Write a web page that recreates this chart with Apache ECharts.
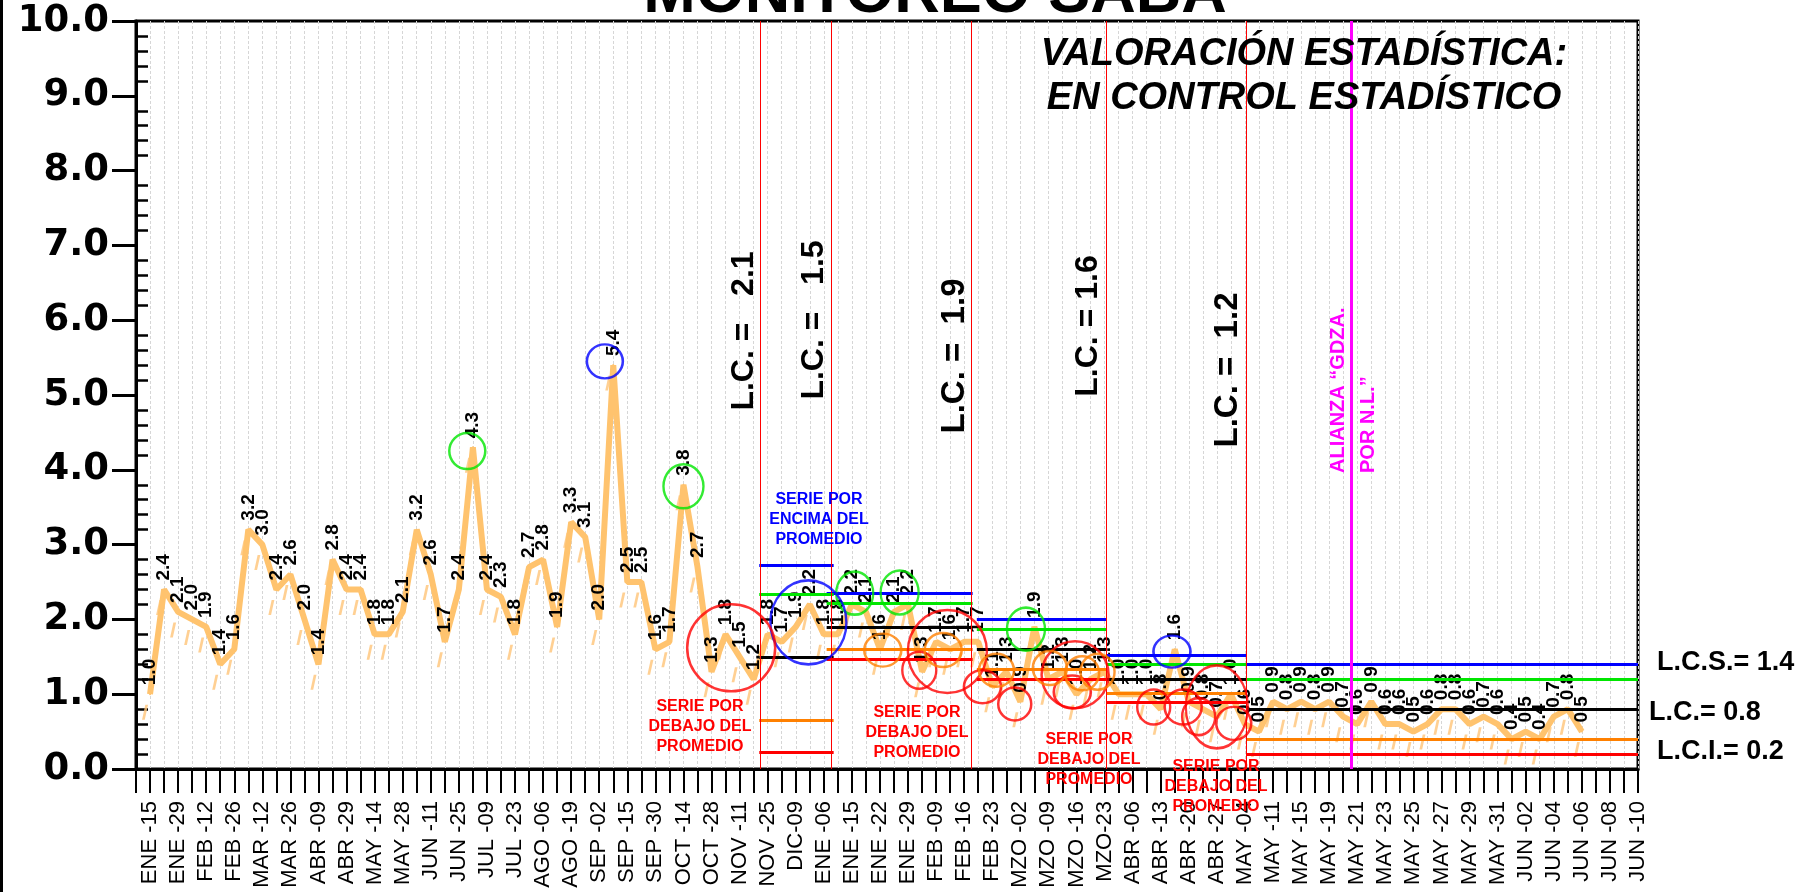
<!DOCTYPE html>
<html><head><meta charset="utf-8">
<script src="https://cdn.jsdelivr.net/npm/echarts@6/dist/echarts.min.js"></script>
<style>html,body{margin:0;padding:0;background:#fff}#c{width:1808px;height:892px}</style>
</head><body><div id="c"></div>
<script>
// ---------- DATA ----------
const tickLabels = ['ENE -15','ENE -29','FEB -12','FEB -26','MAR -12','MAR -26','ABR -09','ABR -29','MAY -14','MAY -28',
  'JUN -11','JUN -25','JUL -09','JUL -23','AGO -06','AGO -19','SEP -02','SEP -15','SEP -30','OCT -14',
  'OCT -28','NOV -11','NOV -25','DIC-09','ENE -06','ENE -15','ENE -22','ENE -29','FEB -09','FEB -16',
  'FEB -23','MZO -02','MZO -09','MZO -16','MZO-23','ABR -06','ABR -13','ABR -20','ABR -27','MAY -04',
  'MAY -11','MAY -15','MAY -19','MAY -21','MAY -23','MAY -25','MAY -27','MAY -29','MAY -31','JUN -02',
  'JUN -04','JUN -06','JUN -08','JUN -10'];
const slotCount = 108;      // tick positions 0..107, labels on odd positions
const firstIndex = 1;       // first plotted value sits on position 1
const values = [
  1.0,2.4,2.1,2.0,1.9,1.4,1.6,3.2,3.0,2.4,2.6,2.0,1.4,2.8,2.4,2.4,1.8,1.8,2.1,3.2,2.6,1.7,2.4,4.3,2.4,
  2.3,1.8,2.7,2.8,1.9,3.3,3.1,2.0,5.4,2.5,2.5,1.6,1.7,3.8,2.7,1.3,1.8,1.5,1.2,
  1.8,1.7,1.9,2.2,1.8,
  1.8,2.2,2.1,1.6,2.1,2.2,1.3,1.7,1.6,1.7,
  1.7,1.1,1.3,0.9,1.9,1.2,1.3,1.0,1.2,1.3,
  1.0,1.0,1.0,0.8,1.6,0.9,0.8,0.7,1.0,0.6,
  0.5,0.9,0.8,0.9,0.8,0.9,0.7,0.6,0.9,0.6,0.6,0.5,0.6,0.8,0.8,0.6,0.7,0.6,0.4,0.5,0.4,0.7,0.8,0.5];

// control limits per period (start / end position on the x scale)
const secStart = [-1.15, 44.4, 49.2, 59.9, 69.1, 79.1];
const secEnd   = [44.45, 49.7, 59.6, 69.1, 79.1, 107];
const lcsLine  = [4.35, 2.72, 2.35, 2.00, 1.52, 1.40];   // blue
const upperW   = [3.60, 2.34, 2.21, 1.87, 1.40, 1.20];   // green
const lcLine   = [2.08, 1.50, 1.90, 1.60, 1.20, 0.80];   // black
const lowerW   = [0.58, 0.655, 1.60, 1.33, 1.01, 0.40];  // orange
const lciLine  = [null, 0.225, 1.47, 1.20, 0.89, 0.20];  // red
const periodBreaks = [44.45, 49.55, 59.5, 69.1, 79.1];
const allianceBreak = 86.6;

// annotation ellipses: [x, y, width, height]
const greenRings  = [[23.6,4.25,36,36],[39.0,3.78,40,44],[51.2,2.35,37,43],[54.4,2.36,38,44],[63.4,1.87,38,43]];
const blueRings   = [[33.4,5.45,36,34],[47.9,1.96,76,84],[73.8,1.57,37,32]];
const redRings    = [[42.4,1.62,88,87],[57.8,1.57,79,83],[55.8,1.32,34,37],[60.3,1.10,37,33],[62.6,0.87,33,33],
                     [66.9,1.26,67,67],[66.7,1.03,37,33],[72.5,0.83,33,35],[74.6,0.83,37,35],[77.0,0.83,62,83],
                     [75.7,0.70,33,37],[78.2,0.61,35,33]];
const orangeRings = [[53.2,1.59,37,33],[57.5,1.59,37,34],[61.3,1.32,35,33],[65.1,1.35,34,34],[67.4,1.28,34,34],[68.5,1.30,34,36]];

// ---------- CHART ----------
const FONT = "'Liberation Sans', Arial, Helvetica, sans-serif";
const chart = echarts.init(document.getElementById('c'));
const lineData = values.map((v, i) => [firstIndex + i, v]);

const segs = [];
const addSegs = (arr, color) => arr.forEach((v, k) => {
  if (v == null) return;
  segs.push([{coord: [secStart[k], v], lineStyle: {color, width: 3, type: 'solid'}}, {coord: [secEnd[k], v]}]);
});
addSegs(lcsLine, '#0000FF');
addSegs(upperW, '#00E600');
addSegs(lcLine, '#000000');
addSegs(lowerW, '#FF8000');
addSegs(lciLine, '#FF0000');
const vlines = periodBreaks.map(x => ({xAxis: x, lineStyle: {color: '#FF0000', width: 1, type: 'solid'}}));
vlines.push({xAxis: allianceBreak, lineStyle: {color: '#FF00FF', width: 3, type: 'solid'}});

const minorVals = [];
for (let k = 0; k <= 50; k++) { if (k % 5 !== 0) minorVals.push(k / 5); }

const ring = (data, color) => ({
  type: 'scatter', data, symbol: 'circle', silent: true, z: 6,
  symbolSize: v => [v[2], v[3]],
  itemStyle: {color: 'rgba(0,0,0,0)', borderColor: color, borderWidth: 2.5}
});

const txt = (x, y, text, o) => Object.assign({type: 'text', x, y, z: 100,
  style: Object.assign({text, fill: '#000', font: 'bold 16px ' + FONT, align: 'center', verticalAlign: 'middle'}, o || {})});
const rot = (x, y, text, o) => Object.assign(txt(x, y, text, o), {rotation: Math.PI / 2});

chart.setOption({
  animation: false,
  grid: {left: 136, right: 170, top: 21, bottom: 123, show: true, borderColor: '#000', borderWidth: 3},
  xAxis: {
    type: 'value', min: 0, max: slotCount - 1, interval: 1,
    axisLine: {lineStyle: {color: '#000', width: 3}},
    axisTick: {length: 24, lineStyle: {color: '#000', width: 2}},
    splitLine: {show: true, lineStyle: {color: '#D6D6D6', width: 1, type: [3, 2]}},
    axisLabel: {rotate: 90, margin: 32, fontSize: 22, color: '#000', fontFamily: FONT,
      formatter: v => { const i = Math.round(v); return i % 2 === 1 ? (tickLabels[(i - 1) / 2] || '') : ''; }}
  },
  yAxis: [{
    type: 'value', min: 0, max: 10, interval: 1,
    axisLine: {show: true, lineStyle: {color: '#000', width: 3}},
    axisTick: {show: true, length: 24, lineStyle: {color: '#000', width: 3}},
    splitLine: {show: false},
    axisLabel: {margin: 27, fontSize: 37, fontWeight: 'bold', color: '#000', fontFamily: "'DejaVu Sans', sans-serif",
      formatter: v => v.toFixed(1)}
  }, {
    type: 'value', min: 0, max: 10, position: 'left',
    axisLine: {show: false}, splitLine: {show: false}, axisLabel: {show: false},
    axisTick: {show: true, inside: true, length: 12, customValues: minorVals, lineStyle: {color: '#000', width: 2.5}}
  }],
  series: [
    {type: 'line', data: [], clip: false, silent: true, z: 2,
      markLine: {silent: true, symbol: ['none', 'none'], label: {show: false}, data: segs.concat(vlines)}},
    {type: 'scatter', data: lineData, silent: true, z: 3,
      symbol: 'path://M0,12L3,0L5.5,0L2.5,12Z', symbolSize: [6, 15], symbolOffset: [-5, 18],
      itemStyle: {color: '#FFC478'}},
    {type: 'line', data: lineData, z: 4, symbol: 'circle', symbolSize: 2, showSymbol: true,
      itemStyle: {color: '#FFC36E'}, lineStyle: {color: '#FFC36E', width: 6},
      label: {show: true, position: 'top', distance: 8, rotate: 90, align: 'left', verticalAlign: 'middle',
        fontSize: 19, fontWeight: 'bold', color: '#000', fontFamily: FONT,
        formatter: p => p.value[1].toFixed(1)}},
    ring(greenRings, '#00E600'),
    ring(blueRings, '#0000FF'),
    ring(redRings, '#FF0000'),
    ring(orangeRings, '#FF8000')
  ],
  graphic: [
    {type: 'rect', shape: {x: 0, y: 0, width: 3, height: 892}, style: {fill: '#000'}},
    txt(935, -5, 'MONITOREO SABA', {font: 'bold 63px ' + FONT}),
    txt(1304, 77, 'VALORACIÓN ESTADÍSTICA:\nEN CONTROL ESTADÍSTICO', {font: 'italic bold 38px ' + FONT, lineHeight: 44}),
    rot(744, 331, 'L.C. =   2.1', {font: 'bold 32px ' + FONT}),
    rot(814, 320, 'L.C. =   1.5', {font: 'bold 32px ' + FONT}),
    rot(955, 356, 'L.C. =  1.9', {font: 'bold 33px ' + FONT}),
    rot(1088, 326, 'L.C. = 1.6', {font: 'bold 32px ' + FONT}),
    rot(1228, 370, 'L.C. =  1.2', {font: 'bold 33px ' + FONT}),
    rot(1338, 473, 'ALIANZA “GDZA.', {font: 'bold 20px ' + FONT, fill: '#FF00FF', align: 'left'}),
    rot(1368, 473, 'POR N.L.”', {font: 'bold 20px ' + FONT, fill: '#FF00FF', align: 'left'}),
    txt(1657, 663, 'L.C.S.= 1.4', {font: 'bold 27px ' + FONT, align: 'left'}),
    txt(1649, 713, 'L.C.= 0.8', {font: 'bold 27px ' + FONT, align: 'left'}),
    txt(1657, 752, 'L.C.I.= 0.2', {font: 'bold 27px ' + FONT, align: 'left'}),
    txt(819, 520, 'SERIE POR\nENCIMA DEL\nPROMEDIO', {fill: '#0000FF', lineHeight: 20}),
    txt(700, 727, 'SERIE POR\nDEBAJO DEL\nPROMEDIO', {fill: '#FF0000', lineHeight: 20}),
    txt(917, 733, 'SERIE POR\nDEBAJO DEL\nPROMEDIO', {fill: '#FF0000', lineHeight: 20}),
    txt(1089, 760, 'SERIE POR\nDEBAJO DEL\nPROMEDIO', {fill: '#FF0000', lineHeight: 20}),
    txt(1216, 787, 'SERIE POR\nDEBAJO DEL\nPROMEDIO', {fill: '#FF0000', lineHeight: 20})
  ]
});
</script></body></html>
